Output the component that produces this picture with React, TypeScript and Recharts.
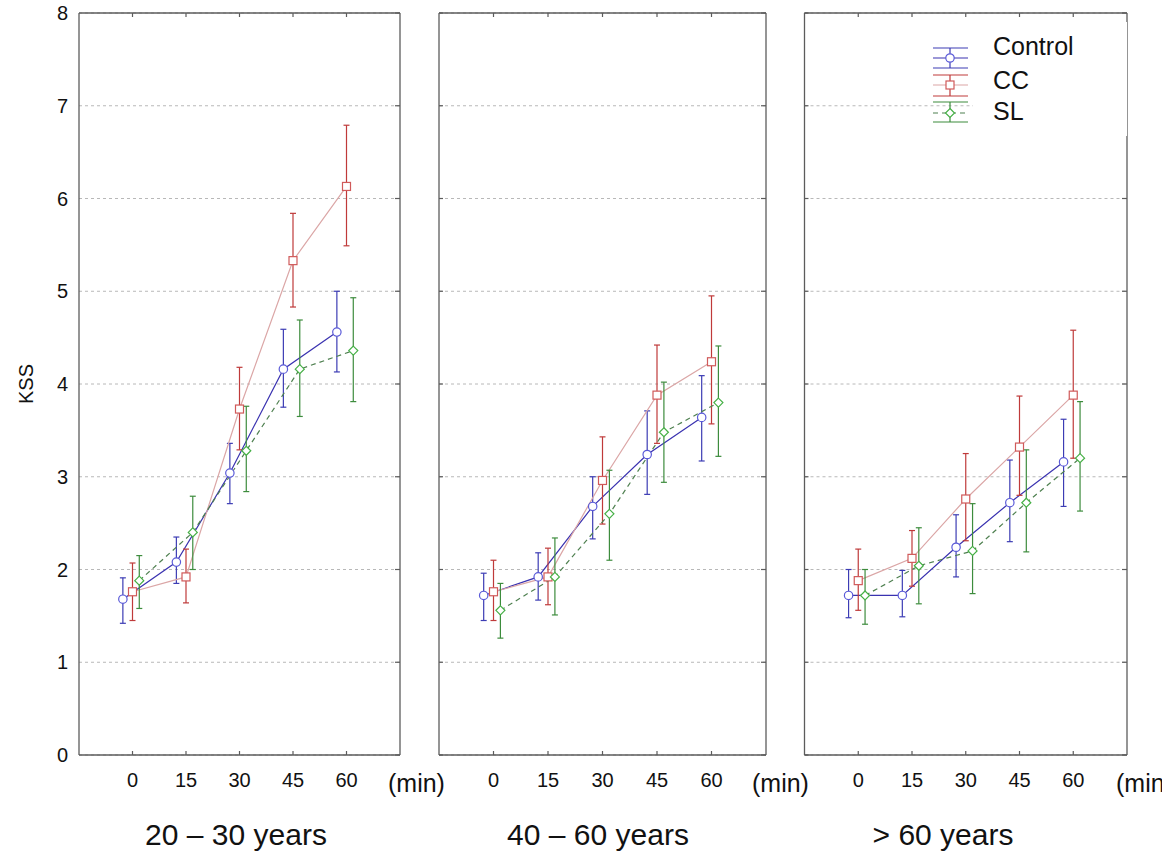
import { ComposedChart, Line, XAxis, YAxis, CartesianGrid, ErrorBar } from 'recharts';

const minutes = [0, 15, 30, 45, 60];
const kssTicks = [0, 1, 2, 3, 4, 5, 6, 7, 8];
const panelTitles = ['20 – 30 years', '40 – 60 years', '> 60 years'];
const seriesNames = ['Control', 'CC', 'SL'];

// one row per age group, one column per time point
const controlMean = [
  [1.68, 2.08, 3.04, 4.16, 4.56],
  [1.72, 1.92, 2.68, 3.24, 3.64],
  [1.72, 1.72, 2.24, 2.72, 3.16],
];
const controlLow = [
  [1.42, 1.85, 2.71, 3.75, 4.13],
  [1.45, 1.67, 2.33, 2.81, 3.17],
  [1.48, 1.49, 1.92, 2.3, 2.68],
];
const controlHigh = [
  [1.91, 2.35, 3.36, 4.59, 5.0],
  [1.96, 2.18, 3.0, 3.71, 4.09],
  [2.0, 1.99, 2.59, 3.18, 3.62],
];

const ccMean = [
  [1.76, 1.92, 3.73, 5.33, 6.13],
  [1.76, 1.92, 2.96, 3.88, 4.24],
  [1.88, 2.12, 2.76, 3.32, 3.88],
];
const ccLow = [
  [1.45, 1.64, 3.29, 4.83, 5.49],
  [1.45, 1.62, 2.49, 3.36, 3.57],
  [1.56, 1.82, 2.31, 2.8, 3.2],
];
const ccHigh = [
  [2.07, 2.22, 4.18, 5.84, 6.79],
  [2.1, 2.23, 3.43, 4.42, 4.95],
  [2.22, 2.42, 3.25, 3.87, 4.58],
];

const slMean = [
  [1.88, 2.4, 3.28, 4.16, 4.36],
  [1.56, 1.92, 2.6, 3.48, 3.8],
  [1.72, 2.04, 2.2, 2.72, 3.2],
];
const slLow = [
  [1.58, 2.0, 2.84, 3.65, 3.81],
  [1.26, 1.51, 2.1, 2.94, 3.22],
  [1.41, 1.63, 1.74, 2.19, 2.63],
];
const slHigh = [
  [2.15, 2.79, 3.76, 4.69, 4.93],
  [1.85, 2.34, 3.07, 4.02, 4.41],
  [2.0, 2.45, 2.71, 3.29, 3.81],
];

const FONT = 'Arial, "Liberation Sans", Helvetica, sans-serif';
const AXIS = '#5c5c5c';

// horizontal dodge so the three groups don't overlap at each time point
const series = [
  { name: seriesNames[0], mean: controlMean, low: controlLow, high: controlHigh, dodge: -2.7, line: '#3a32b0', dash: undefined, marker: '#5a5ad8', err: '#3c3cb4', shape: 'circle' },
  { name: seriesNames[1], mean: ccMean, low: ccLow, high: ccHigh, dodge: 0, line: '#dba6a6', dash: undefined, marker: '#d05a5a', err: '#bf3a3a', shape: 'square' },
  { name: seriesNames[2], mean: slMean, low: slLow, high: slHigh, dodge: 1.9, line: '#4f8050', dash: '5 4', marker: '#46b046', err: '#3d8c3d', shape: 'diamond' },
];

const panels = [
  { left: 0, width: 420, marginLeft: 19, marginRight: 20, showY: true, minX: 388 },
  { left: 420, width: 365, marginLeft: 19, marginRight: 19, showY: false, minX: 752 },
  { left: 785, width: 377, marginLeft: 19.5, marginRight: 35, showY: false, minX: 1116 },
];

function buildData(s: typeof series[number], p: number) {
  return minutes.map((t, i) => ({
    x: t + s.dodge,
    y: s.mean[p][i],
    err: [s.mean[p][i] - s.low[p][i], s.high[p][i] - s.mean[p][i]],
  }));
}

function Marker({ shape, color, cx, cy }: { shape: string; color: string; cx: number; cy: number }) {
  if (cx == null || cy == null) return null;
  if (shape === 'square') {
    return <rect x={cx - 4} y={cy - 4} width={8} height={8} fill="#fff" stroke={color} strokeWidth={1.2} />;
  }
  if (shape === 'diamond') {
    return (
      <polygon
        points={`${cx},${cy - 4.5} ${cx + 4.5},${cy} ${cx},${cy + 4.5} ${cx - 4.5},${cy}`}
        fill="#fff"
        stroke={color}
        strokeWidth={1.2}
      />
    );
  }
  return <circle cx={cx} cy={cy} r={4.2} fill="#fff" stroke={color} strokeWidth={1.2} />;
}

function MinuteTick(props: any) {
  const { x, y, payload } = props;
  return (
    <g>
      <line x1={x} y1={y} x2={x} y2={y - 4} stroke={AXIS} strokeWidth={1.2} />
      <text x={x} y={y + 32} textAnchor="middle" fontSize={20} fontFamily={FONT} fill="#111">
        {payload.value}
      </text>
    </g>
  );
}

// axis ticks without a label (keeps the tick marks and grid)
const NoLabel = () => <g />;

function Panel({ idx }: { idx: number }) {
  const cfg = panels[idx];
  return (
    <div style={{ position: 'absolute', left: cfg.left, top: 0 }}>
      <ComposedChart
        width={cfg.width}
        height={852}
        margin={{ top: 13, right: cfg.marginRight, bottom: 57, left: cfg.marginLeft }}
      >
        <CartesianGrid vertical={false} stroke="#b8b8b8" strokeDasharray="3 3" yAxisId="right" />
        <XAxis
          type="number"
          dataKey="x"
          domain={[-15, 75]}
          ticks={minutes}
          interval={0}
          allowDataOverflow
          height={40}
          tickSize={0}
          tickMargin={0}
          tickLine={false}
          axisLine={{ stroke: AXIS, strokeWidth: 1.3 }}
          tick={<MinuteTick />}
        />
        <XAxis
          xAxisId="top"
          orientation="top"
          type="number"
          dataKey="x"
          domain={[-15, 75]}
          ticks={minutes}
          interval={0}
          allowDataOverflow
          height={1}
          mirror
          tick={NoLabel}
          tickSize={4}
          tickLine={{ stroke: AXIS, strokeWidth: 1.2 }}
          axisLine={{ stroke: AXIS, strokeWidth: 1.3 }}
        />
        <YAxis
          type="number"
          domain={[0, 8]}
          ticks={kssTicks}
          interval={0}
          allowDataOverflow
          width={cfg.showY ? 60 : 1}
          mirror={!cfg.showY}
          tickLine={cfg.showY ? false : { stroke: AXIS, strokeWidth: 1.2 }}
          tickSize={cfg.showY ? 0 : 4}
          tickMargin={cfg.showY ? 11 : 0}
          axisLine={{ stroke: AXIS, strokeWidth: 1.3 }}
          tick={cfg.showY ? { fill: '#111', fontSize: 20, fontFamily: FONT } : NoLabel}
        />
        <YAxis
          yAxisId="right"
          orientation="right"
          type="number"
          domain={[0, 8]}
          ticks={kssTicks}
          interval={0}
          allowDataOverflow
          width={1}
          mirror
          tick={NoLabel}
          tickSize={5}
          tickLine={{ stroke: AXIS, strokeWidth: 1.2 }}
          axisLine={{ stroke: AXIS, strokeWidth: 1.3 }}
        />
        {series.map((s) => (
          <Line
            key={s.name}
            name={s.name}
            data={buildData(s, idx)}
            dataKey="y"
            type="linear"
            stroke={s.line}
            strokeWidth={1.2}
            strokeDasharray={s.dash}
            dot={(p: any) => <Marker key={`${s.name}-${p.index}`} shape={s.shape} color={s.marker} cx={p.cx} cy={p.cy} />}
            activeDot={false}
            isAnimationActive={false}
          >
            <ErrorBar dataKey="err" direction="y" width={3} stroke={s.err} strokeWidth={1.2} />
          </Line>
        ))}
      </ComposedChart>
    </div>
  );
}

// legend rows: caps + centre line with the marker, like the original figure
const legendRows = [
  { top: 48, mid: 58, bottom: 68, text: 46 },
  { top: 75, mid: 85, bottom: 96, text: 80 },
  { top: 102, mid: 113, bottom: 122, text: 111 },
];

function Overlay() {
  return (
    <svg
      width={1162}
      height={852}
      style={{ position: 'absolute', left: 0, top: 0, pointerEvents: 'none' }}
      fontFamily={FONT}
    >
      <rect x={973} y={22} width={154} height={114} fill="#fff" />
      {series.map((s, i) => {
        const r = legendRows[i];
        return (
          <g key={s.name}>
            <line x1={933} x2={968} y1={r.top} y2={r.top} stroke={s.err} strokeWidth={1.2} />
            <line x1={933} x2={968} y1={r.bottom} y2={r.bottom} stroke={s.err} strokeWidth={1.2} />
            <line x1={950} x2={950} y1={r.top} y2={r.bottom} stroke={s.err} strokeWidth={1.2} />
            <line x1={933} x2={968} y1={r.mid} y2={r.mid} stroke={s.line} strokeWidth={1.2} strokeDasharray={s.dash} />
            <Marker shape={s.shape} color={s.marker} cx={950} cy={r.mid} />
            <text x={993} y={r.text} dy="0.36em" fontSize={25} fill="#111">
              {s.name}
            </text>
          </g>
        );
      })}
      <text x={26} y={384} transform="rotate(-90 26 384)" textAnchor="middle" dy="0.36em" fontSize={20} fill="#111">
        KSS
      </text>
      {panels.map((p, i) => (
        <text key={`min-${i}`} x={p.minX} y={792} fontSize={25} fill="#111">
          (min)
        </text>
      ))}
      {panelTitles.map((t, i) => (
        <text key={t} x={[236, 598, 943][i]} y={845} textAnchor="middle" fontSize={30} fill="#111">
          {t}
        </text>
      ))}
    </svg>
  );
}

export default function App() {
  return (
    <div style={{ position: 'absolute', left: 0, top: 0, width: 1162, height: 852, background: '#fff' }}>
      {panels.map((_, i) => (
        <Panel key={i} idx={i} />
      ))}
      <Overlay />
    </div>
  );
}
